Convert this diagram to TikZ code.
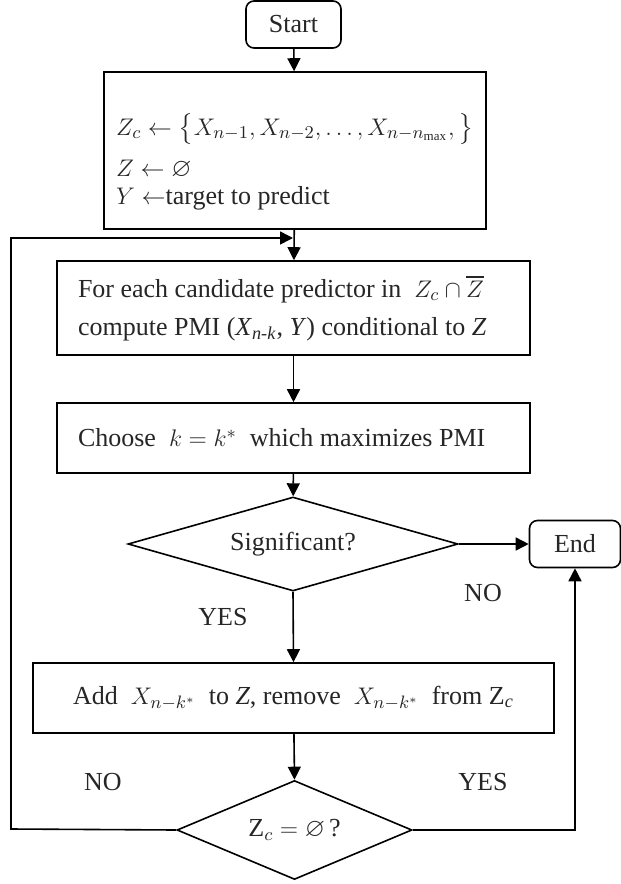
\documentclass[tikz,border=0pt]{standalone}
\usepackage{amssymb}
\usepackage{fontspec}
\setmainfont{Liberation Serif}
\usetikzlibrary{shapes.geometric,arrows.meta}
\tikzset{
	term/.style={draw,rounded corners=4pt,minimum width=#1,minimum height=23.5pt,inner sep=0pt},
	proc/.style={draw,text width=215.5pt,inner xsep=10.5pt,align=flush left,minimum height=#1},
	wbox/.style 2 args={draw,minimum width=#1,minimum height=#2,inner sep=0pt},
	cond/.style 2 args={draw,diamond,aspect=3,inner sep=0pt,minimum width=#1,minimum height=#2},
	flow/.style={-{Triangle[length=6.5pt,width=6.5pt]}},
	lab/.style={inner sep=0pt}
}

\begin{document}
\begin{tikzpicture}[x=0.5pt,y=-0.5pt,line width=0.8pt,text=black!85,font=\fontsize{13}{19}\selectfont]
	\useasboundingbox (0,0) rectangle (621,884);
	\node [term=47.5pt] (start) at (293.5,24.5) {Start};
	\node [wbox={191pt}{78.5pt},align=flush left] (init) at (295,150.5) {\rule{0pt}{22pt}$Z_c \leftarrow \Big\{ X_{n-1},X_{n-2},\ldots,X_{n-n_{\max}}, \Big\}$\\[1.5pt]
		$Z \leftarrow \varnothing$\\[-5pt]
		$Y \leftarrow$target to predict};
	\coordinate (join) at (293,238);
	\node [proc=47pt] (cand) at (293.5,308) {For each candidate predictor in \ $Z_c \cap \overline{Z}$\\
		compute PMI (\textit{X}\textsubscript{\textit{n-k}}, \textit{Y}) conditional to \textit{Z}};
	\node [proc=35pt] (choose) at (293.5,438) {Choose \ $k = k^{*}$ \ which maximizes PMI};
	\node [cond={165pt}{47pt}] (sig) at (293,544) {Significant?};
	\node [term=45.5pt] (end) at (575,544) {End};
	\node [wbox={260.5pt}{35pt}] (add) at (293.5,698) {Add \ $X_{n-k^{*}}$ \ to \textit{Z}, remove \ $X_{n-k^{*}}$ \ from Z\textsubscript{\textit{c}}};
	\node [cond={117.5pt}{49.5pt}] (empty) at (294.5,830) {$\mathrm{Z}_c = \varnothing\,$?};
	\coordinate (lft) at (11,829);

	\node [lab] (no1) at (483,593) {NO};
	\node [lab] (yes1) at (223,617) {YES};
	\node [lab] (no2) at (103,782) {NO};
	\node [lab] (yes2) at (483,782) {YES};

	\draw [flow] (start) -- (init);
	\draw [flow] (init) -- (cand);
	\draw [flow] (cand) -- (choose);
	\draw [flow] (choose) -- (sig);
	\draw [flow] (sig.east) -- (end.west);
	\draw [flow] (sig.south) -- (add.north);
	\draw [flow] (add) -- (empty.north);
	\draw [flow] (empty.west) -- (lft) |- (join);
	\draw [flow] (empty.east) -| (end.south);
\end{tikzpicture}
\end{document}
